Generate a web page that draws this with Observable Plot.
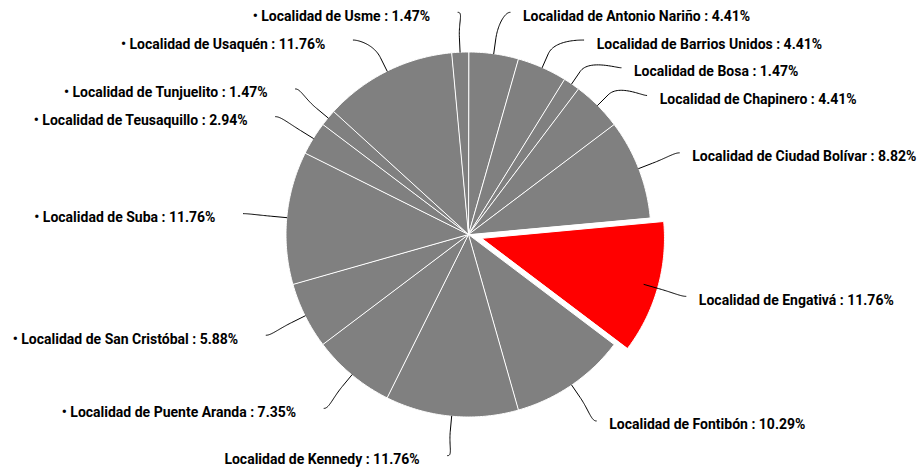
<!DOCTYPE html>
<html>
<head>
<meta charset="utf-8">
<script src="https://cdn.jsdelivr.net/npm/d3@7"></script>
<script src="https://cdn.jsdelivr.net/npm/@observablehq/plot@0.6"></script>
<style>
  html, body { margin: 0; padding: 0; background: #ffffff; }
  #chart { width: 924px; height: 470px; }
</style>
</head>
<body>
<div id="chart"></div>
<script>
// ---------------- data ----------------
const localidades = [
  "Antonio Nariño", "Barrios Unidos", "Bosa", "Chapinero", "Ciudad Bolívar",
  "Engativá", "Fontibón", "Kennedy", "Puente Aranda", "San Cristóbal",
  "Suba", "Teusaquillo", "Tunjuelito", "Usaquén", "Usme"
];
const porcentajes = [4.41, 4.41, 1.47, 4.41, 8.82, 11.76, 10.29, 11.76, 7.35, 5.88, 11.76, 2.94, 1.47, 11.76, 1.47];
const etiquetas = [
  "Localidad de Antonio Nariño : 4.41%",
  "Localidad de Barrios Unidos : 4.41%",
  "Localidad de Bosa : 1.47%",
  "Localidad de Chapinero : 4.41%",
  "Localidad de Ciudad Bolívar : 8.82%",
  "Localidad de Engativá : 11.76%",
  "Localidad de Fontibón : 10.29%",
  "Localidad de Kennedy : 11.76%",
  "• Localidad de Puente Aranda : 7.35%",
  "• Localidad de San Cristóbal : 5.88%",
  "• Localidad de Suba : 11.76%",
  "• Localidad de Teusaquillo : 2.94%",
  "• Localidad de Tunjuelito : 1.47%",
  "• Localidad de Usaquén : 11.76%",
  "• Localidad de Usme : 1.47%"
];
const destacada = "Engativá";

// ---------------- layout ----------------
const W = 924, H = 470;
const cx = 468, cy = 234, R_PIE = 182.5;
const SLICED_OFFSET = 14;
const R_LABEL = 226;
const LABEL_BOX = 27.7;
const GREY = "#808080", HIGHLIGHT = "#ff0000";

const total = d3.sum(porcentajes);
const TAU = 2 * Math.PI;
let acc = 0;
const slices = localidades.map((name, i) => {
  const a0 = acc / total * TAU;
  acc += porcentajes[i];
  const a1 = acc / total * TAU;
  return {name, i, a0, a1, mid: (a0 + a1) / 2, sliced: name === destacada};
});

const pt = (a, rad, ox = 0, oy = 0) => [cx + ox + rad * Math.sin(a), cy + oy - rad * Math.cos(a)];

// slice polygons
const slicePts = [];
for (const s of slices) {
  const off = s.sliced ? SLICED_OFFSET : 0;
  const ox = off * Math.sin(s.mid), oy = -off * Math.cos(s.mid);
  slicePts.push({name: s.name, x: cx + ox, y: cy + oy});
  const n = Math.max(2, Math.ceil((s.a1 - s.a0) / (Math.PI / 360)));
  for (let k = 0; k <= n; k++) {
    const a = s.a0 + (s.a1 - s.a0) * k / n;
    const [x, y] = pt(a, R_PIE, ox, oy);
    slicePts.push({name: s.name, x, y});
  }
}

// label distribution (Highcharts-like)
function distribute(items, lo, hi, size) {
  items.sort((a, b) => a.target - b.target);
  let boxes = items.map(it => ({targets: [it.target], items: [it], size}));
  let overlapping = true, guard = 0;
  while (overlapping && guard++ < 100) {
    for (const b of boxes) {
      const t = (Math.min(...b.targets) + Math.max(...b.targets)) / 2;
      b.pos = Math.max(lo, Math.min(t - b.size / 2, hi - b.size));
    }
    overlapping = false;
    for (let i = boxes.length - 1; i > 0; i--) {
      if (boxes[i - 1].pos + boxes[i - 1].size > boxes[i].pos + 0.01) {
        boxes[i - 1].size += boxes[i].size;
        boxes[i - 1].targets = boxes[i - 1].targets.concat(boxes[i].targets);
        boxes[i - 1].items = boxes[i - 1].items.concat(boxes[i].items);
        boxes.splice(i, 1);
        overlapping = true;
      }
    }
  }
  for (const b of boxes) {
    let p = b.pos;
    for (const it of b.items) { it.ye = p + size / 2; p += size; }
  }
}

const labels = slices.map(s => ({
  ...s,
  left: s.mid > Math.PI,
  target: cy - R_LABEL * Math.cos(s.mid)
}));
distribute(labels.filter(d => !d.left), -2, 469, LABEL_BOX);
distribute(labels.filter(d => d.left), -2, 469, LABEL_BOX);

const connPts = [];
for (const d of labels) {
  const useNatural = d.target < cy - R_LABEL + 2 || d.target > cy + R_LABEL - 2;
  const yy = useNatural ? d.target : d.ye;
  const dy = Math.max(-R_LABEL, Math.min(R_LABEL, yy - cy));
  d.xe = cx + (d.left ? -1 : 1) * Math.sqrt(R_LABEL * R_LABEL - dy * dy);
  const S = [d.xe, d.ye];
  const C1 = [d.xe + (d.left ? 5 : -5), d.ye];
  const T = pt(d.mid, R_PIE);
  const B = pt(d.mid, R_PIE + 15);
  const C2 = pt(d.mid, R_PIE + 30);
  const N = 30;
  for (let k = 0; k <= N; k++) {
    const t = k / N, u = 1 - t;
    const x = u*u*u*S[0] + 3*u*u*t*C1[0] + 3*u*t*t*C2[0] + t*t*t*B[0];
    const y = u*u*u*S[1] + 3*u*u*t*C1[1] + 3*u*t*t*C2[1] + t*t*t*B[1];
    connPts.push({name: d.name, x, y});
  }
  connPts.push({name: d.name, x: T[0], y: T[1]});
}

const textOpts = {
  x: d => d.xe + (d.left ? -28 : 13),
  y: "ye",
  dy: 4,
  text: d => etiquetas[d.i],
  fontSize: 14,
  fontWeight: "bold",
  fontFamily: "Roboto",
  fill: "#000000"
};

const chart = Plot.plot({
  width: W,
  height: H,
  margin: 0,
  x: {domain: [0, W], range: [0, W], axis: null},
  y: {domain: [0, H], range: [0, H], axis: null},
  color: {type: "identity"},
  style: {background: "#ffffff", overflow: "visible"},
  marks: [
    Plot.line(slicePts, {
      x: "x", y: "y", z: "name",
      fill: d => d.name === destacada ? HIGHLIGHT : GREY,
      stroke: "#ffffff", strokeWidth: 1, strokeLinejoin: "round",
      curve: "linear-closed"
    }),
    Plot.line(connPts, {x: "x", y: "y", z: "name", stroke: "#000000", strokeWidth: 1}),
    Plot.text(labels.filter(d => !d.left), {...textOpts, textAnchor: "start"}),
    Plot.text(labels.filter(d => d.left), {...textOpts, textAnchor: "end"})
  ]
});
document.getElementById("chart").appendChild(chart);
</script>
</body>
</html>
